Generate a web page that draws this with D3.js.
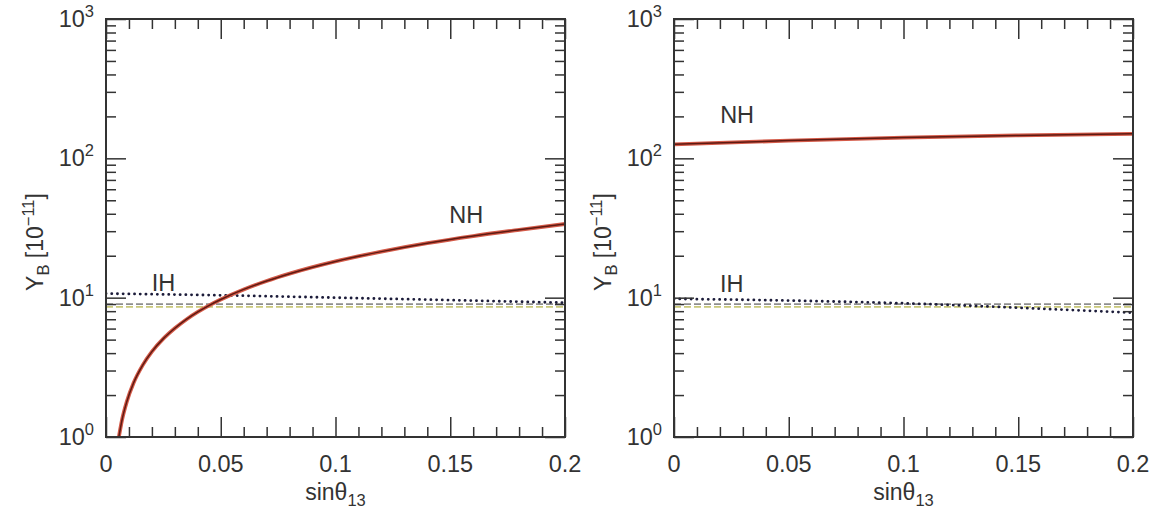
<!DOCTYPE html>
<html>
<head>
  <meta charset="utf-8">
  <title>Y_B vs sin theta13</title>
  <script src="https://d3js.org/d3.v7.min.js"></script>
  <style>
    body { margin: 0; background: #fff; }
    svg text { font-family: "Liberation Sans", Arial, Helvetica, sans-serif; fill: #333; }
  </style>
</head>
<body>
<div id="output"></div>

<script type="text/javascript">

  // ---- data ----
  var xMajor = [0, 0.05, 0.1, 0.15, 0.2];
  var xMinor = [0.01, 0.02, 0.03, 0.04, 0.06, 0.07, 0.08, 0.09, 0.11, 0.12, 0.13, 0.14, 0.16, 0.17, 0.18, 0.19];
  var yMajor = [1, 10, 100, 1000];
  var yMinor = [2, 3, 4, 5, 6, 7, 8, 9, 20, 30, 40, 50, 60, 70, 80, 90, 200, 300, 400, 500, 600, 700, 800, 900];
  var yExp = ["0", "1", "2", "3"];

  // left panel
  var nhLeftS = [0.0056, 0.007, 0.009, 0.012, 0.016, 0.02, 0.025, 0.03, 0.035, 0.04, 0.045, 0.05, 0.06, 0.07, 0.08, 0.1, 0.12, 0.14, 0.16, 0.18, 0.2];
  var nhLeftY = [1.0, 1.33, 1.78, 2.44, 3.28, 4.1, 5.08, 6.03, 6.98, 7.9, 8.81, 9.7, 11.46, 13.18, 14.87, 18.2, 21.4, 24.6, 27.7, 30.7, 33.8];
  var ihLeftS = [0, 0.05, 0.1, 0.15, 0.2];
  var ihLeftY = [10.7, 10.4, 10.0, 9.6, 9.2];

  // right panel
  var nhRightS = [0, 0.05, 0.1, 0.15, 0.2];
  var nhRightY = [126, 134, 141, 146, 150];
  var ihRightS = [0, 0.04, 0.08, 0.11, 0.14, 0.17, 0.2];
  var ihRightY = [9.8, 9.6, 9.3, 9.0, 8.6, 8.2, 7.8];

  // flat dashed reference lines (grey and yellow), both panels
  var refS = [0, 0.2];
  var refGreyY = [9.0, 9.0];
  var refYellowY = [8.6, 8.6];

  var w = 1164, h = 509;
  var pw = 459, ph = 418;

  var svg = d3.select("#output").append("svg")
          .attr("width", w)
          .attr("height", h);

  var x = d3.scaleLinear().domain([0, 0.2]).range([0, pw]);
  var y = d3.scaleLog().domain([1, 1000]).range([ph, 0]);

  function pts(s, v) {
    return s.map(function(d, i){ return [d, v[i]]; });
  }

  var line = d3.line()
          .x(function(d){ return x(d[0]); })
          .y(function(d){ return y(d[1]); })
          .curve(d3.curveMonotoneX);

  function panel(id, left, nh, ih, nhLab, ihLab) {
    var g = svg.append("g")
            .attr("transform", "translate(" + left + ",19)");

    g.append("clipPath").attr("id", "clip" + id)
            .append("rect").attr("width", pw).attr("height", ph);

    var plot = g.append("g").attr("clip-path", "url(#clip" + id + ")");

    // dashed reference lines
    plot.append("path")
            .attr("d", line(pts(refS, refGreyY)))
            .attr("fill", "none")
            .attr("stroke", "#8e8e8e")
            .attr("stroke-width", 1.7)
            .attr("stroke-dasharray", "7,3");
    plot.append("path")
            .attr("d", line(pts(refS, refYellowY)))
            .attr("fill", "none")
            .attr("stroke", "#c9c87a")
            .attr("stroke-width", 1.7)
            .attr("stroke-dasharray", "7,3");

    // IH dotted
    plot.append("path")
            .attr("d", line(ih))
            .attr("fill", "none")
            .attr("stroke", "#1c1c3a")
            .attr("stroke-width", 2.8)
            .attr("stroke-linecap", "round")
            .attr("stroke-dasharray", "0.1,5.6");

    // NH solid red
    plot.append("path")
            .attr("d", line(nh))
            .attr("fill", "none")
            .attr("stroke", "#d45a48")
            .attr("stroke-width", 3.8);
    plot.append("path")
            .attr("d", line(nh))
            .attr("fill", "none")
            .attr("stroke", "#5e1a12")
            .attr("stroke-width", 1.5);

    // ticks
    function tickAxis(axis, vals, len, tr) {
      var a = g.append("g")
              .attr("transform", tr)
              .call(axis.tickValues(vals).tickSizeInner(-len).tickSizeOuter(0).tickFormat(""));
      a.select(".domain").remove();
      a.selectAll("line").attr("stroke", "#333").attr("stroke-width", 1.5);
      return a;
    }
    tickAxis(d3.axisBottom(x), xMajor, 20, "translate(0," + ph + ")");
    tickAxis(d3.axisBottom(x), xMinor, 10, "translate(0," + ph + ")");
    tickAxis(d3.axisTop(x), xMajor, 20, "translate(0,0)");
    tickAxis(d3.axisTop(x), xMinor, 10, "translate(0,0)");
    tickAxis(d3.axisLeft(y), yMajor, 20, "translate(0,0)");
    tickAxis(d3.axisLeft(y), yMinor, 10, "translate(0,0)");
    tickAxis(d3.axisRight(y), yMajor, 20, "translate(" + pw + ",0)");
    tickAxis(d3.axisRight(y), yMinor, 10, "translate(" + pw + ",0)");

    // frame
    g.append("rect")
            .attr("width", pw)
            .attr("height", ph)
            .attr("fill", "none")
            .attr("stroke", "#333")
            .attr("stroke-width", 2);

    // x tick labels
    g.selectAll(".xl")
            .data(xMajor)
            .enter()
            .append("text")
            .attr("class", "xl")
            .attr("x", function(d){ return x(d); })
            .attr("y", ph + 35)
            .attr("text-anchor", "middle")
            .attr("font-size", 23.5)
            .text(function(d){ return String(d); });

    // y tick labels 10^n
    var yl = g.selectAll(".yl")
            .data(yMajor)
            .enter()
            .append("text")
            .attr("class", "yl")
            .attr("x", -12)
            .attr("y", function(d){ return y(d) + 8; })
            .attr("text-anchor", "end")
            .attr("font-size", 23.5);
    yl.append("tspan").text("10");
    yl.append("tspan")
            .attr("font-size", 16.5)
            .attr("dy", -10)
            .text(function(d, i){ return yExp[i]; });

    // axis titles
    var xt = g.append("text")
            .attr("x", pw / 2)
            .attr("y", ph + 63)
            .attr("text-anchor", "middle")
            .attr("font-size", 23);
    xt.append("tspan").text("sinθ");
    xt.append("tspan").attr("font-size", 16.5).attr("dy", 6).text("13");

    var yt = g.append("text")
            .attr("transform", "translate(-63," + (ph / 2 + 14) + ") rotate(-90)")
            .attr("text-anchor", "middle")
            .attr("font-size", 23);
    yt.append("tspan").text("Y");
    yt.append("tspan").attr("font-size", 16.5).attr("dy", 6).text("B");
    yt.append("tspan").attr("dy", -6).text(" [10");
    yt.append("tspan").attr("font-size", 16.5).attr("dy", -9).text("−11");
    yt.append("tspan").attr("dy", 9).text("]");

    // curve labels
    g.append("text")
            .attr("x", x(nhLab[0]))
            .attr("y", y(nhLab[1]) + 8)
            .attr("text-anchor", "middle")
            .attr("font-size", 23.5)
            .text("NH");
    g.append("text")
            .attr("x", x(ihLab[0]))
            .attr("y", y(ihLab[1]) + 8)
            .attr("text-anchor", "middle")
            .attr("font-size", 23.5)
            .text("IH");
  }

  panel("L", 106, pts(nhLeftS, nhLeftY), pts(ihLeftS, ihLeftY), [0.157, 39], [0.025, 12.8]);
  panel("R", 674, pts(nhRightS, nhRightY), pts(ihRightS, ihRightY), [0.0275, 205], [0.0252, 12.6]);

</script>

</body>
</html>
